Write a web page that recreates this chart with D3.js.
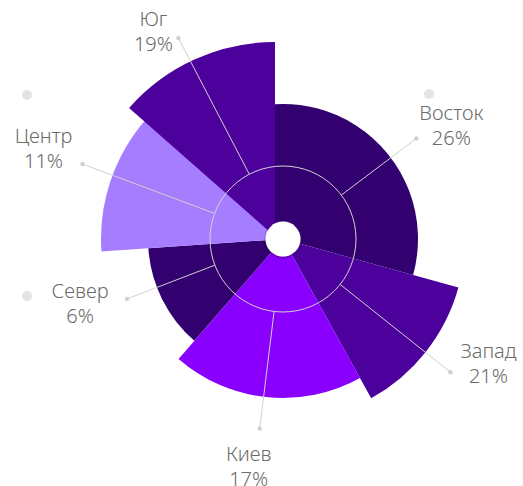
<!DOCTYPE html>
<html>
<head>
<meta charset="UTF-8">
<style>
body { margin: 0; background: #fff; }
svg { display: block; }
.lbl { font-family: "Noto Sans", sans-serif; font-weight: 300; font-size: 20px; fill: #6b6b6b; }
</style>
</head>
<body>
<svg width="523" height="486"></svg>
<script src="https://d3js.org/d3.v7.min.js"></script>
<script>
// data
const categories = ["Восток", "Запад", "Киев", "Север", "Центр", "Юг"];
const shares = [26, 21, 17, 6, 11, 19];            // printed percentages
const sweep = [29.3, 12.65, 19.45, 12.5, 12.6, 13.5]; // angular share of each slice
const reach = [67.5, 91, 79.5, 67.5, 91, 97.25];    // radial value of each slice
const labelAngle = [53, 128.5, 187, 249, 290.5, 332.5]; // where the leader lines leave

const colors = ["#33006f", "#4c009c", "#8a00ff", "#33006f", "#a77dff", "#4c009c"];

// layout
const width = 523, height = 486, cx = 283, cy = 239;
const ringR = 73, holeR = 17.5;
const pullOut = { "Юг": [-8, -2.5] };
const labelNudge = {
  "Восток": [35, -19], "Запад": [38, -14], "Киев": [-11, 32],
  "Север": [-47, -1], "Центр": [-39, -21], "Юг": [-25, -12]
};
const decorDots = [[27, 95], [27, 296], [429, 94]];

const svg = d3.select("svg").attr("viewBox", `0 0 ${width} ${height}`);
const deg = Math.PI / 180;
const rScale = d3.scaleLinear([0, 100], [0, 200]);

const rows = categories.map((c, i) => ({
  name: c, share: shares[i], sweep: sweep[i], reach: reach[i], la: labelAngle[i], color: colors[i]
}));

const pie = d3.pie().sort(null).value(d => d.sweep);
const arcs = pie(rows);
const arc = d3.arc().innerRadius(0).outerRadius(d => rScale(d.data.reach));

const defs = svg.append("defs");
defs.append("clipPath").attr("id", "eastClip")
  .append("rect").attr("x", -8).attr("y", -260).attr("width", 520).attr("height", 520);
const sh = defs.append("filter").attr("id", "holeShadow")
  .attr("x", "-50%").attr("y", "-50%").attr("width", "200%").attr("height", "200%");
sh.append("feDropShadow").attr("dx", 0).attr("dy", 1).attr("stdDeviation", 1)
  .attr("flood-color", "#1a0040").attr("flood-opacity", 0.7);

svg.selectAll("circle.decor").data(decorDots).join("circle")
  .attr("class", "decor")
  .attr("cx", d => d[0]).attr("cy", d => d[1]).attr("r", 5)
  .attr("fill", "#e4e4e4");

const g = svg.append("g").attr("transform", `translate(${cx},${cy})`);

// first slice reaches a little past twelve o'clock and is cut vertically
g.selectAll("path.slice").data(arcs).join("path")
  .attr("class", "slice")
  .attr("fill", d => d.data.color)
  .attr("d", (d, i) => i === 0 ? arc({ ...d, startAngle: -40 * deg }) : arc(d))
  .attr("clip-path", (d, i) => i === 0 ? "url(#eastClip)" : null)
  .attr("transform", d => pullOut[d.data.name] ? `translate(${pullOut[d.data.name]})` : null);

g.append("circle").attr("r", ringR)
  .attr("fill", "none").attr("stroke", "#d2d2d2").attr("stroke-width", 1);

const pt = (r, a) => [r * Math.sin(a * deg), -r * Math.cos(a * deg)];

const lab = g.selectAll("g.lab").data(arcs).join("g").attr("class", "lab");
lab.each(function (d) {
  const el = d3.select(this);
  const p0 = pt(ringR, d.data.la);
  const p1 = pt(rScale(d.data.reach) + 32, d.data.la);
  el.append("line")
    .attr("x1", p0[0]).attr("y1", p0[1]).attr("x2", p1[0]).attr("y2", p1[1])
    .attr("stroke", "#d0d0d0").attr("stroke-width", 1);
  el.append("circle").attr("cx", p1[0]).attr("cy", p1[1]).attr("r", 2.2).attr("fill", "#cfcfcf");
  const n = labelNudge[d.data.name];
  const t = el.append("text").attr("class", "lbl").attr("text-anchor", "middle")
    .attr("x", p1[0] + n[0]).attr("y", p1[1] + n[1]);
  t.append("tspan").attr("x", p1[0] + n[0]).text(d.data.name);
  t.append("tspan").attr("x", p1[0] + n[0]).attr("dy", 25).text(d.data.share + "%");
});

g.append("circle").attr("r", holeR).attr("fill", "#fff").attr("filter", "url(#holeShadow)");
</script>
</body>
</html>
